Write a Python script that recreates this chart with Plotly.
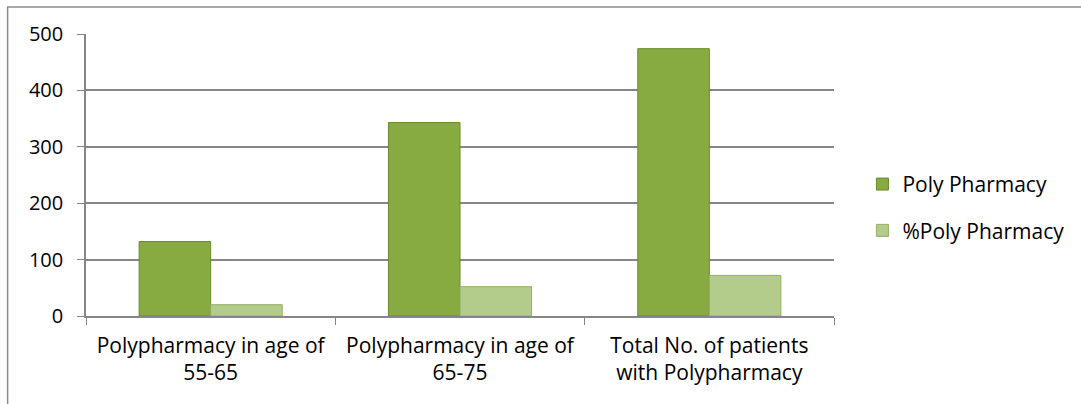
import plotly.graph_objects as go

categories = ["Polypharmacy in age of<br>55-65", "Polypharmacy in age of<br>65-75", "Total No. of patients<br>with Polypharmacy"]
poly_pharmacy = [132, 343, 474]
pct_poly_pharmacy = [20, 52, 72]
y_ticks = [0, 100, 200, 300, 400, 500]

FONT = "Open Sans"
fig = go.Figure()
fig.add_trace(go.Bar(x=categories, y=poly_pharmacy, name="Poly Pharmacy",
                     marker=dict(color="#87AB41", line=dict(color="#6A8A2D", width=1)),
                     legendgroup="a"))
fig.add_trace(go.Bar(x=categories, y=pct_poly_pharmacy, name="%Poly Pharmacy",
                     marker=dict(color="#B3CB8B", line=dict(color="#93AF66", width=1)),
                     legendgroup="b"))

fig.update_layout(
    width=1081, height=404,
    margin=dict(l=86, r=241, t=34, b=88),
    paper_bgcolor="white", plot_bgcolor="white",
    barmode="group", bargap=0.426, bargroupgap=0,
    font=dict(family=FONT, size=20, color="#000000"),
    showlegend=True,
    legend=dict(x=1.038, y=0.385, xanchor="left", yanchor="middle",
                font=dict(size=21), tracegroupgap=16, traceorder="grouped",
                bgcolor="rgba(0,0,0,0)"),
    xaxis=dict(showline=True, linecolor="#868686", linewidth=1.5,
               ticks="outside", ticklen=7, tickcolor="#868686", tickson="boundaries",
               showgrid=False, tickfont=dict(size=21), ticklabelstandoff=10),
    yaxis=dict(range=[0, 500], tickvals=y_ticks, showline=True, linecolor="#868686",
               linewidth=1.5, ticks="outside", ticklen=7, tickcolor="#868686",
               showgrid=True, gridcolor="#868686", gridwidth=1.5, zeroline=False,
               tickfont=dict(size=20), ticklabelstandoff=10),
    shapes=[dict(type="rect", xref="paper", yref="paper",
                 x0=(7 - 86) / 754, x1=2.0, y0=-1.0, y1=(316 - 7) / 282,
                 line=dict(color="#8C8C8C", width=1.5), fillcolor="rgba(0,0,0,0)",
                 layer="below")],
)
fig.write_html("out.html", config={"displayModeBar": False},
               post_script="document.body.style.margin='0';")
